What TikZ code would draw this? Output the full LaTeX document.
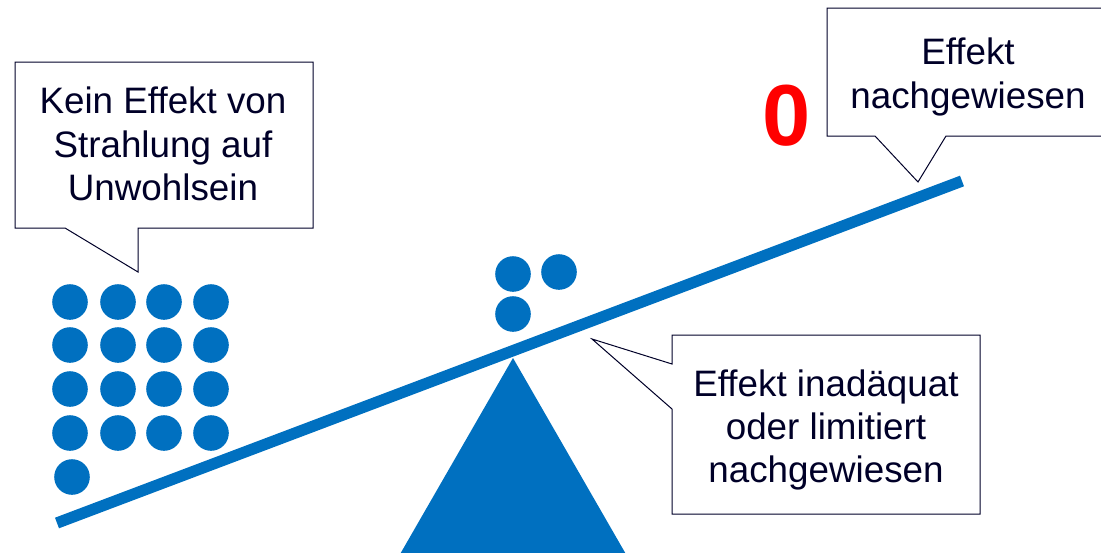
\documentclass[tikz,border=0pt]{standalone}
\usepackage{fontspec}
\setmainfont{Liberation Sans}
\usetikzlibrary{positioning}
\definecolor{colorBeam}{RGB}{0,112,192}
\definecolor{colorTxt}{RGB}{0,0,40}
\tikzset{
   beam/.style={line width=8.5pt,color=colorBeam},
   fulcrum/.style={fill=colorBeam},
   ball/.style={circle,fill=colorBeam,inner sep=0pt,minimum size=26.7pt},
   bubble/.style={draw=colorTxt,fill=white,line width=0.75pt,line join=miter},
   btxt/.style={align=center,text=colorTxt,font=\fontsize{27.6}{32.4}\selectfont},
   zero/.style={text=red,font=\fontsize{65}{65}\selectfont\bfseries},
}
\begin{document}
\begin{tikzpicture}[x=0.75pt,y=-0.75pt]
      \useasboundingbox (0,0) rectangle (1101,553);
      % lever and fulcrum
      \coordinate (lend) at (57,523);
      \coordinate (rend) at (962,181);
      \coordinate (apex) at (513,358);
      \fill[fulcrum] (apex) -- (627,556) -- (399,556) -- cycle;
      \draw[beam] (lend) -- (rend);
      % balls on the left
      \node[ball] (l11) at (70,302) {};
      \node[ball] (l12) at (118,302) {};
      \node[ball] (l13) at (164,302) {};
      \node[ball] (l14) at (211,302) {};
      \node[ball] (l21) at (70,345) {};
      \node[ball] (l22) at (118,345) {};
      \node[ball] (l23) at (164,345) {};
      \node[ball] (l24) at (211,345) {};
      \node[ball] (l31) at (70,389) {};
      \node[ball] (l32) at (118,389) {};
      \node[ball] (l33) at (164,389) {};
      \node[ball] (l34) at (211,389) {};
      \node[ball] (l41) at (70,433) {};
      \node[ball] (l42) at (118,433) {};
      \node[ball] (l43) at (164,433) {};
      \node[ball] (l44) at (211,433) {};
      \node[ball] (l51) at (72,477) {};
      % balls in the middle
      \node[ball] (m11) at (513,274) {};
      \node[ball] (m12) at (559,272) {};
      \node[ball] (m21) at (513,314) {};
      % callouts
      \draw[bubble] (15,62) -- (313,62) -- (313,228) -- (138,228) -- (138,272)
         -- (65,228) -- (15,228) -- cycle;
      \draw[bubble] (672,335) -- (980,335) -- (980,514) -- (672,514) -- (672,409)
         -- (592,339) -- (672,364) -- cycle;
      \draw[bubble] (827,8) -- (1108,8) -- (1108,136) -- (946,136) -- (918,182)
         -- (875,136) -- (827,136) -- cycle;
      \node[btxt] (nokein) at (163,144) {Kein Effekt von\\Strahlung auf\\Unwohlsein};
      \node[btxt] (nolim) at (826,430) {Effekt inadäquat\\oder limitiert\\nachgewiesen};
      \node[btxt] (noyes) at (968,77) {Effekt\\nachgewiesen};
      \node[zero] (count) at (787,116) {0};
    \end{tikzpicture}
\end{document}
